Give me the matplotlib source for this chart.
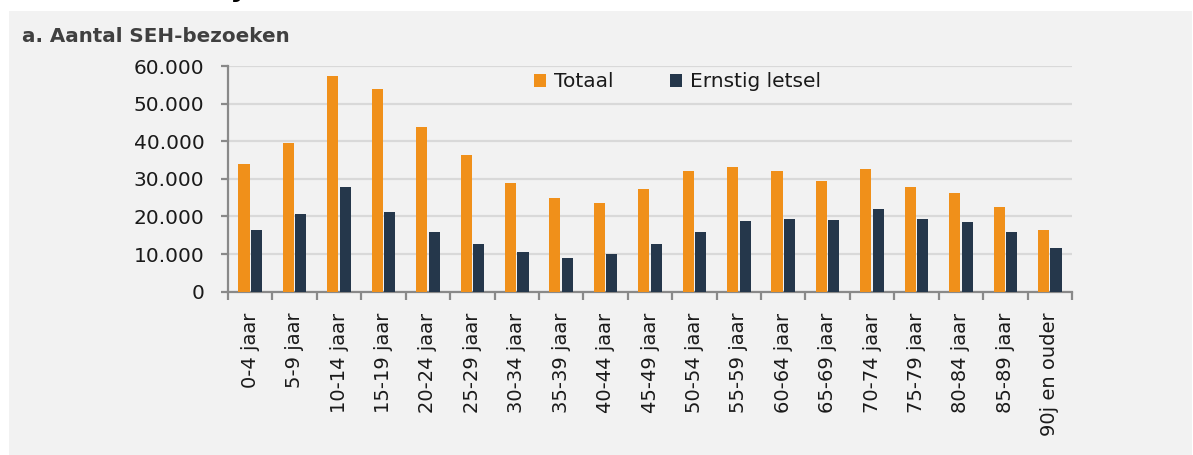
import matplotlib.pyplot as plt
from matplotlib.patches import Patch
from matplotlib.ticker import FuncFormatter, MultipleLocator
import numpy as np

# Data
categories = ["0-4 jaar", "5-9 jaar", "10-14 jaar", "15-19 jaar", "20-24 jaar",
              "25-29 jaar", "30-34 jaar", "35-39 jaar", "40-44 jaar", "45-49 jaar",
              "50-54 jaar", "55-59 jaar", "60-64 jaar", "65-69 jaar", "70-74 jaar",
              "75-79 jaar", "80-84 jaar", "85-89 jaar", "90j en ouder"]
totaal = [34000, 39600, 57400, 53900, 43900, 36400, 28900, 24800, 23600, 27300,
          32200, 33100, 32200, 29400, 32600, 27900, 26300, 22400, 16400]
ernstig = [16300, 20700, 27800, 21100, 15900, 12700, 10600, 9000, 10000, 12700,
           15800, 18800, 19300, 19100, 22000, 19400, 18500, 15800, 11600]

ORANGE = "#F0901A"
NAVY = "#25374B"
BG = "#F2F2F2"

plt.rcParams['font.family'] = ['DejaVu Sans']

fig = plt.figure(figsize=(11.93, 4.55), dpi=100)
fig.patch.set_facecolor("white")

# grey panel behind the chart
panel = plt.Rectangle((9 / 1193, 0), 1183 / 1193, 1 - 11 / 455,
                      transform=fig.transFigure, facecolor=BG, edgecolor="none", zorder=-5)
fig.patches.append(panel)

# cut-off heading above the panel (only the descender is visible)
fig.text(0.196, 1.0 + 0.008, "j", fontsize=20, fontweight="bold", color="black",
         va="baseline", ha="left", zorder=-4)

fig.text(22 / 1193, 1 - 42 / 455, "a. Aantal SEH-bezoeken", fontsize=14.3,
         fontweight="bold", color="#404040", va="baseline", ha="left")

ax = fig.add_axes([228 / 1193, 1 - 291.7 / 455, 844 / 1193, (291.7 - 66) / 455])
ax.set_facecolor(BG)

x = np.arange(len(categories))
w = 0.25
ax.bar(x - 0.14, totaal, width=w, color=ORANGE, zorder=3)
ax.bar(x + 0.14, ernstig, width=w, color=NAVY, zorder=3)

ax.set_xlim(-0.5, len(categories) - 0.5)
ax.set_ylim(0, 60000)
ax.yaxis.set_major_locator(MultipleLocator(10000))
ax.yaxis.set_major_formatter(FuncFormatter(lambda v, p: f"{int(v):,}".replace(",", ".")))
ax.grid(axis="y", color="#D9D9D9", linewidth=1.6, zorder=0)
ax.set_axisbelow(True)

for s in ["top", "right"]:
    ax.spines[s].set_visible(False)
for s in ["left", "bottom"]:
    ax.spines[s].set_color("#898989")
    ax.spines[s].set_linewidth(1.6)

ax.tick_params(axis="y", length=5, width=1.6, color="#898989", labelsize=14.5,
               labelcolor="#1a1a1a", pad=12)
ax.set_xticks(x)
ax.set_xticklabels(categories, rotation=90, fontsize=14, color="#1a1a1a")
ax.tick_params(axis="x", which="major", length=0, pad=15)
ax.set_xticks(np.arange(-0.5, len(categories)), minor=True)
ax.tick_params(axis="x", which="minor", length=6, width=1.6, color="#898989")

handles = [Patch(facecolor=ORANGE, label="Totaal"),
           Patch(facecolor=NAVY, label="Ernstig letsel")]
leg = ax.legend(handles=handles, loc="center", bbox_to_anchor=(0.533, 0.93), ncol=2,
                frameon=False, fontsize=14.5, handlelength=0.6, handleheight=0.6,
                handletextpad=0.4, columnspacing=2.8)
for t in leg.get_texts():
    t.set_color("#1a1a1a")

fig.savefig("out.png", dpi=100, facecolor=fig.get_facecolor())
